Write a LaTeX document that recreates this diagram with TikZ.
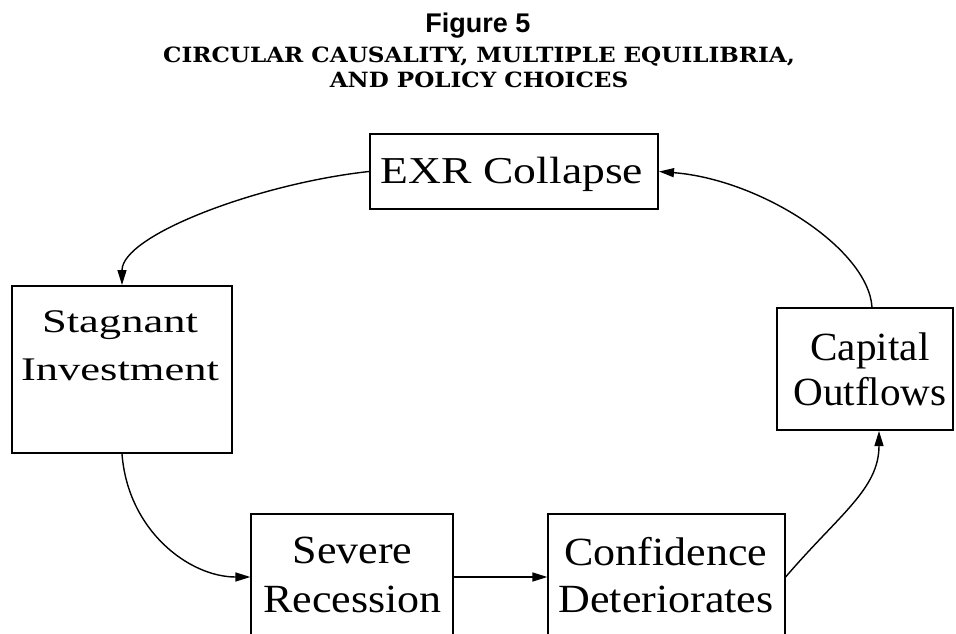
\documentclass[tikz,border=0pt]{standalone}
\usepackage{fontspec}
\setmainfont{Liberation Serif}
\newfontfamily\figfont{Liberation Sans}
\newfontfamily\capsfont[FakeStretch=1.1]{DejaVu Serif}
\newfontfamily\capfont[FakeStretch=1.03]{Liberation Serif}
\newfontfamily\boxfont[FakeStretch=1.1]{Liberation Serif}
\newfontfamily\widefont[FakeStretch=1.2]{Liberation Serif}
\newfontfamily\widerfont[FakeStretch=1.35]{Liberation Serif}
\usetikzlibrary{arrows.meta}

\begin{document}
\begin{tikzpicture}[x=1pt, y=-1pt, >={Triangle[length=15pt,width=9pt]},
   box/.style={draw, line width=2pt, inner sep=0pt},
   thinbox/.style={draw, line width=1.2pt, inner sep=0pt},
   lbl/.style={anchor=base, inner sep=0pt, align=center},
   flow/.style={->, line width=1.4pt}]
  \clip (0,0) rectangle (956,633);
  % title (base = last line)
  \node[lbl, font={\figfont\bfseries\fontsize{27}{30}\selectfont}] (fig) at (478,32) {Figure 5};
  \node[lbl, font={\capsfont\bfseries\fontsize{21}{25}\selectfont}] (ttl) at (479,87)
    {CIRCULAR CAUSALITY, MULTIPLE EQUILIBRIA,\\AND POLICY CHOICES};
  % boxes
  \node[box, minimum width=288pt, minimum height=75pt]  (exr)  at (514,171.5) {};
  \node[box, minimum width=220pt, minimum height=167pt] (sti)  at (122,369.5) {};
  \node[box, minimum width=176pt, minimum height=122pt] (cap)  at (865,369)   {};
  \node[thinbox, minimum width=202pt, minimum height=126pt] (sev)  at (352,577) {};
  \node[thinbox, minimum width=237pt, minimum height=126pt] (conf) at (666.5,577) {};
  % labels
  \node[lbl, font={\widefont\fontsize{38}{46}\selectfont}] (exr-t) at (512,183) {EXR Collapse};
  \node[lbl, font={\widerfont\fontsize{33}{48}\selectfont}] (sti-t) at (120,380) {Stagnant\\Investment};
  \node[lbl, font={\capfont\fontsize{40}{45}\selectfont}] (cap-t) at (870,405) {Capital\\Outflows};
  \node[lbl, font={\boxfont\fontsize{40}{49}\selectfont}] (sev-t) at (352.5,612) {Severe\\Recession};
  \node[lbl, font={\boxfont\fontsize{40}{47}\selectfont}] (conf-t) at (666,612) {Confidence\\Deteriorates};
  % loop
  \draw[flow] (exr.west) .. controls +(-110,12) and +(0,-50) .. (sti.north);
  \draw[flow] (sti.south) .. controls +(6,77) and +(-61,0) .. (sev.west);
  \draw[flow] (sev) -- (conf);
  \draw[flow] (conf.east) .. controls +(54,-63) and +(0,58) .. ([xshift=14pt]cap.south);
  \draw[flow] ([xshift=7pt]cap.north) .. controls +(-4,-58) and +(102,8) .. (exr.east);
\end{tikzpicture}
\end{document}
